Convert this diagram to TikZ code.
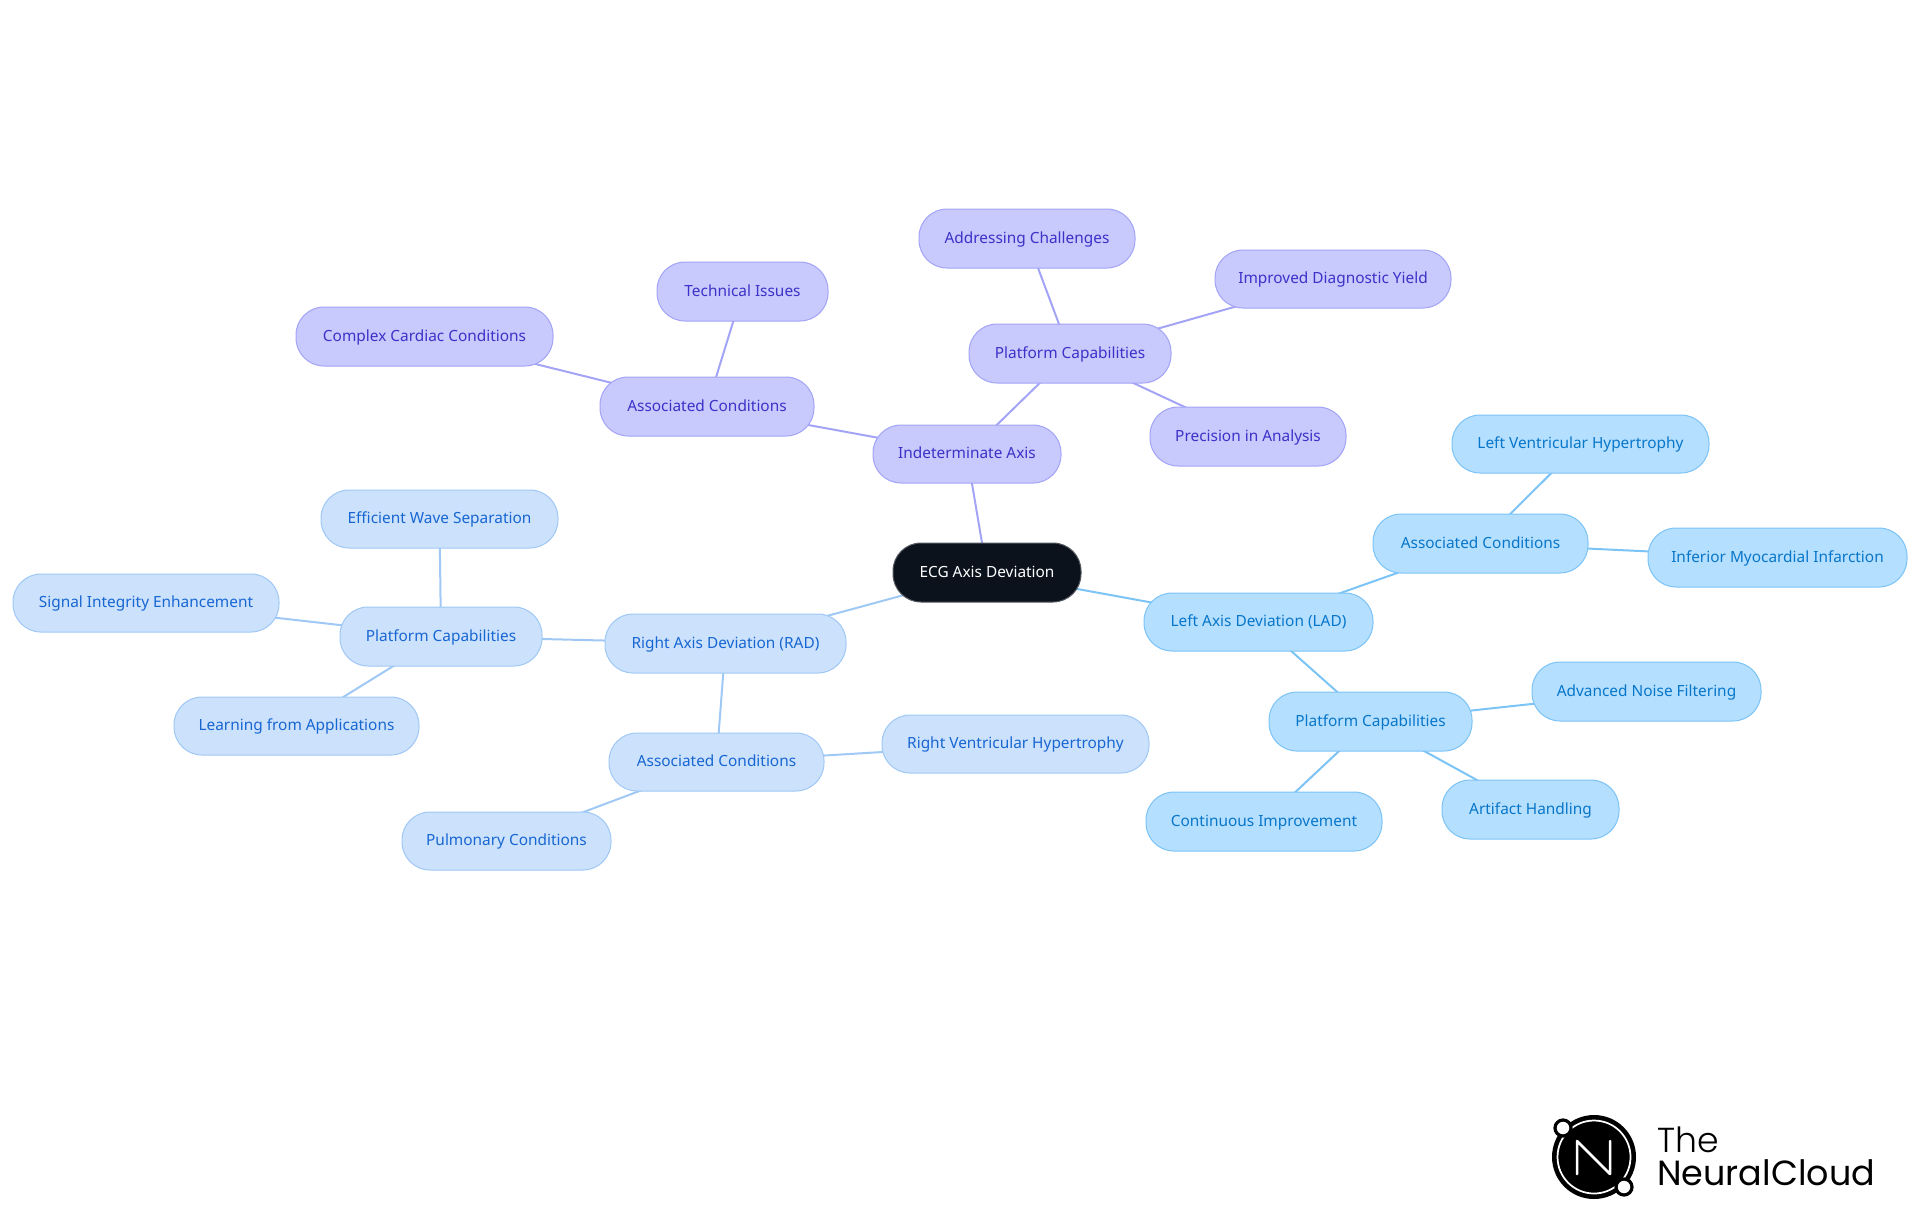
\documentclass[tikz,border=0pt]{standalone}
\usepackage{fontspec}
\setmainfont{Noto Sans}
\newfontfamily\logofont{Poppins Light}
\newfontfamily\logofontb{Poppins}
\usetikzlibrary{backgrounds}
\definecolor{rootfill}{HTML}{0B121C}
\definecolor{indfill}{HTML}{C8C9FD}
\definecolor{inddraw}{HTML}{A3A4F6}
\definecolor{indtext}{HTML}{3B32C8}
\definecolor{radfill}{HTML}{CCE2FC}
\definecolor{raddraw}{HTML}{9FC8F5}
\definecolor{radtext}{HTML}{1766D2}
\definecolor{ladfill}{HTML}{B4DFFF}
\definecolor{laddraw}{HTML}{7CC3F6}
\definecolor{ladtext}{HTML}{0876C9}
\tikzset{
  box/.style={rounded corners=21pt,inner sep=0pt,line width=0.75pt,align=center,text height=9.5pt,text depth=2.5pt,font=\fontsize{11.55}{14}\selectfont},
  root/.style={box,fill=rootfill,draw=rootfill!70!white,text=white},
  ind/.style={box,fill=indfill,draw=inddraw,text=indtext},
  rad/.style={box,fill=radfill,draw=raddraw,text=radtext},
  lad/.style={box,fill=ladfill,draw=laddraw,text=ladtext},
  indl/.style={draw=inddraw,line width=1.5pt},
  radl/.style={draw=raddraw,line width=1.5pt},
  ladl/.style={draw=laddraw,line width=1.5pt},
  logotext/.style={inner sep=0pt,anchor=base west,text=black}
}
\newcommand\bx[7]{\node[#1,minimum width={(#5-#4)*0.75pt},minimum height={(#7-#6)*0.75pt}] (#2) at ({(#4+#5)/2},{(#6+#7)/2}) {#3};}
\begin{document}
\begin{tikzpicture}[x=0.75pt,y=-0.75pt]
\useasboundingbox (0,0) rectangle (1920,1215);
\bx{root}{ecg}{ECG Axis Deviation}{893}{1081}{543}{602}
\bx{ind}{indet}{Indeterminate Axis}{873}{1061}{425}{483}
\bx{ind}{acind}{Associated Conditions}{600}{814}{377}{436}
\bx{ind}{tech}{Technical Issues}{657}{828}{262}{321}
\bx{ind}{complex}{Complex Cardiac Conditions}{296}{553}{307}{366}
\bx{ind}{pcind}{Platform Capabilities}{969}{1171}{324}{383}
\bx{ind}{addr}{Addressing Challenges}{919}{1135}{209}{268}
\bx{ind}{impr}{Improved Diagnostic Yield}{1215}{1451}{250}{308}
\bx{ind}{prec}{Precision in Analysis}{1150}{1346}{407}{466}
\bx{rad}{radn}{Right Axis Deviation (RAD)}{605}{846}{614}{673}
\bx{rad}{acrad}{Associated Conditions}{609}{824}{733}{791}
\bx{rad}{rvh}{Right Ventricular Hypertrophy}{882}{1149}{715}{773}
\bx{rad}{pulm}{Pulmonary Conditions}{402}{611}{812}{870}
\bx{rad}{pcrad}{Platform Capabilities}{340}{542}{607}{666}
\bx{rad}{wave}{Efficient Wave Separation}{321}{558}{490}{548}
\bx{rad}{signal}{Signal Integrity Enhancement}{13}{279}{574}{632}
\bx{rad}{learn}{Learning from Applications}{174}{419}{697}{755}
\bx{lad}{ladn}{Left Axis Deviation (LAD)}{1144}{1373}{593}{651}
\bx{lad}{aclad}{Associated Conditions}{1373}{1588}{514}{573}
\bx{lad}{lvh}{Left Ventricular Hypertrophy}{1452}{1709}{415}{473}
\bx{lad}{imi}{Inferior Myocardial Infarction}{1648}{1907}{528}{587}
\bx{lad}{pclad}{Platform Capabilities}{1269}{1472}{692}{751}
\bx{lad}{noise}{Advanced Noise Filtering}{1532}{1761}{662}{721}
\bx{lad}{artif}{Artifact Handling}{1442}{1619}{780}{839}
\bx{lad}{cont}{Continuous Improvement}{1146}{1382}{792}{851}
\begin{pgfonlayer}{background}
\draw[indl] (ecg.center) -- (indet.center);
\draw[indl] (indet.center) -- (acind.center);
\draw[indl] (acind.center) -- (tech.center);
\draw[indl] (acind.center) -- (complex.center);
\draw[indl] (indet.center) -- (pcind.center);
\draw[indl] (pcind.center) -- (addr.center);
\draw[indl] (pcind.center) -- (impr.center);
\draw[indl] (pcind.center) -- (prec.center);
\draw[radl] (ecg.center) -- (radn.center);
\draw[radl] (radn.center) -- (acrad.center);
\draw[radl] (acrad.center) -- (rvh.center);
\draw[radl] (acrad.center) -- (pulm.center);
\draw[radl] (radn.center) -- (pcrad.center);
\draw[radl] (pcrad.center) -- (wave.center);
\draw[radl] (pcrad.center) -- (signal.center);
\draw[radl] (pcrad.center) -- (learn.center);
\draw[ladl] (ecg.center) -- (ladn.center);
\draw[ladl] (ladn.center) -- (aclad.center);
\draw[ladl] (aclad.center) -- (lvh.center);
\draw[ladl] (aclad.center) -- (imi.center);
\draw[ladl] (ladn.center) -- (pclad.center);
\draw[ladl] (pclad.center) -- (noise.center);
\draw[ladl] (pclad.center) -- (artif.center);
\draw[ladl] (pclad.center) -- (cont.center);
\end{pgfonlayer}
% logo
\fill[black] (1594,1157) circle[radius=42];
\draw[white,line width=1.3pt] (1594,1157) circle[radius=36.5];
\draw[white,line width=1.9pt,line join=round,line cap=round] (1577,1174) -- (1577,1141) -- (1610,1174) -- (1610,1141);
\filldraw[fill=white,draw=black,line width=2.4pt] (1563,1128) circle[radius=8];
\filldraw[fill=white,draw=black,line width=2.4pt] (1624,1187) circle[radius=8];
\node[logotext,font=\logofont\fontsize{26}{30}\selectfont] (logo1) at (1657,1152) {The};
\node[logotext,font=\logofontb\fontsize{26.2}{30}\selectfont] (logo2) at (1657,1185) {NeuralCloud};
\end{tikzpicture}
\end{document}
